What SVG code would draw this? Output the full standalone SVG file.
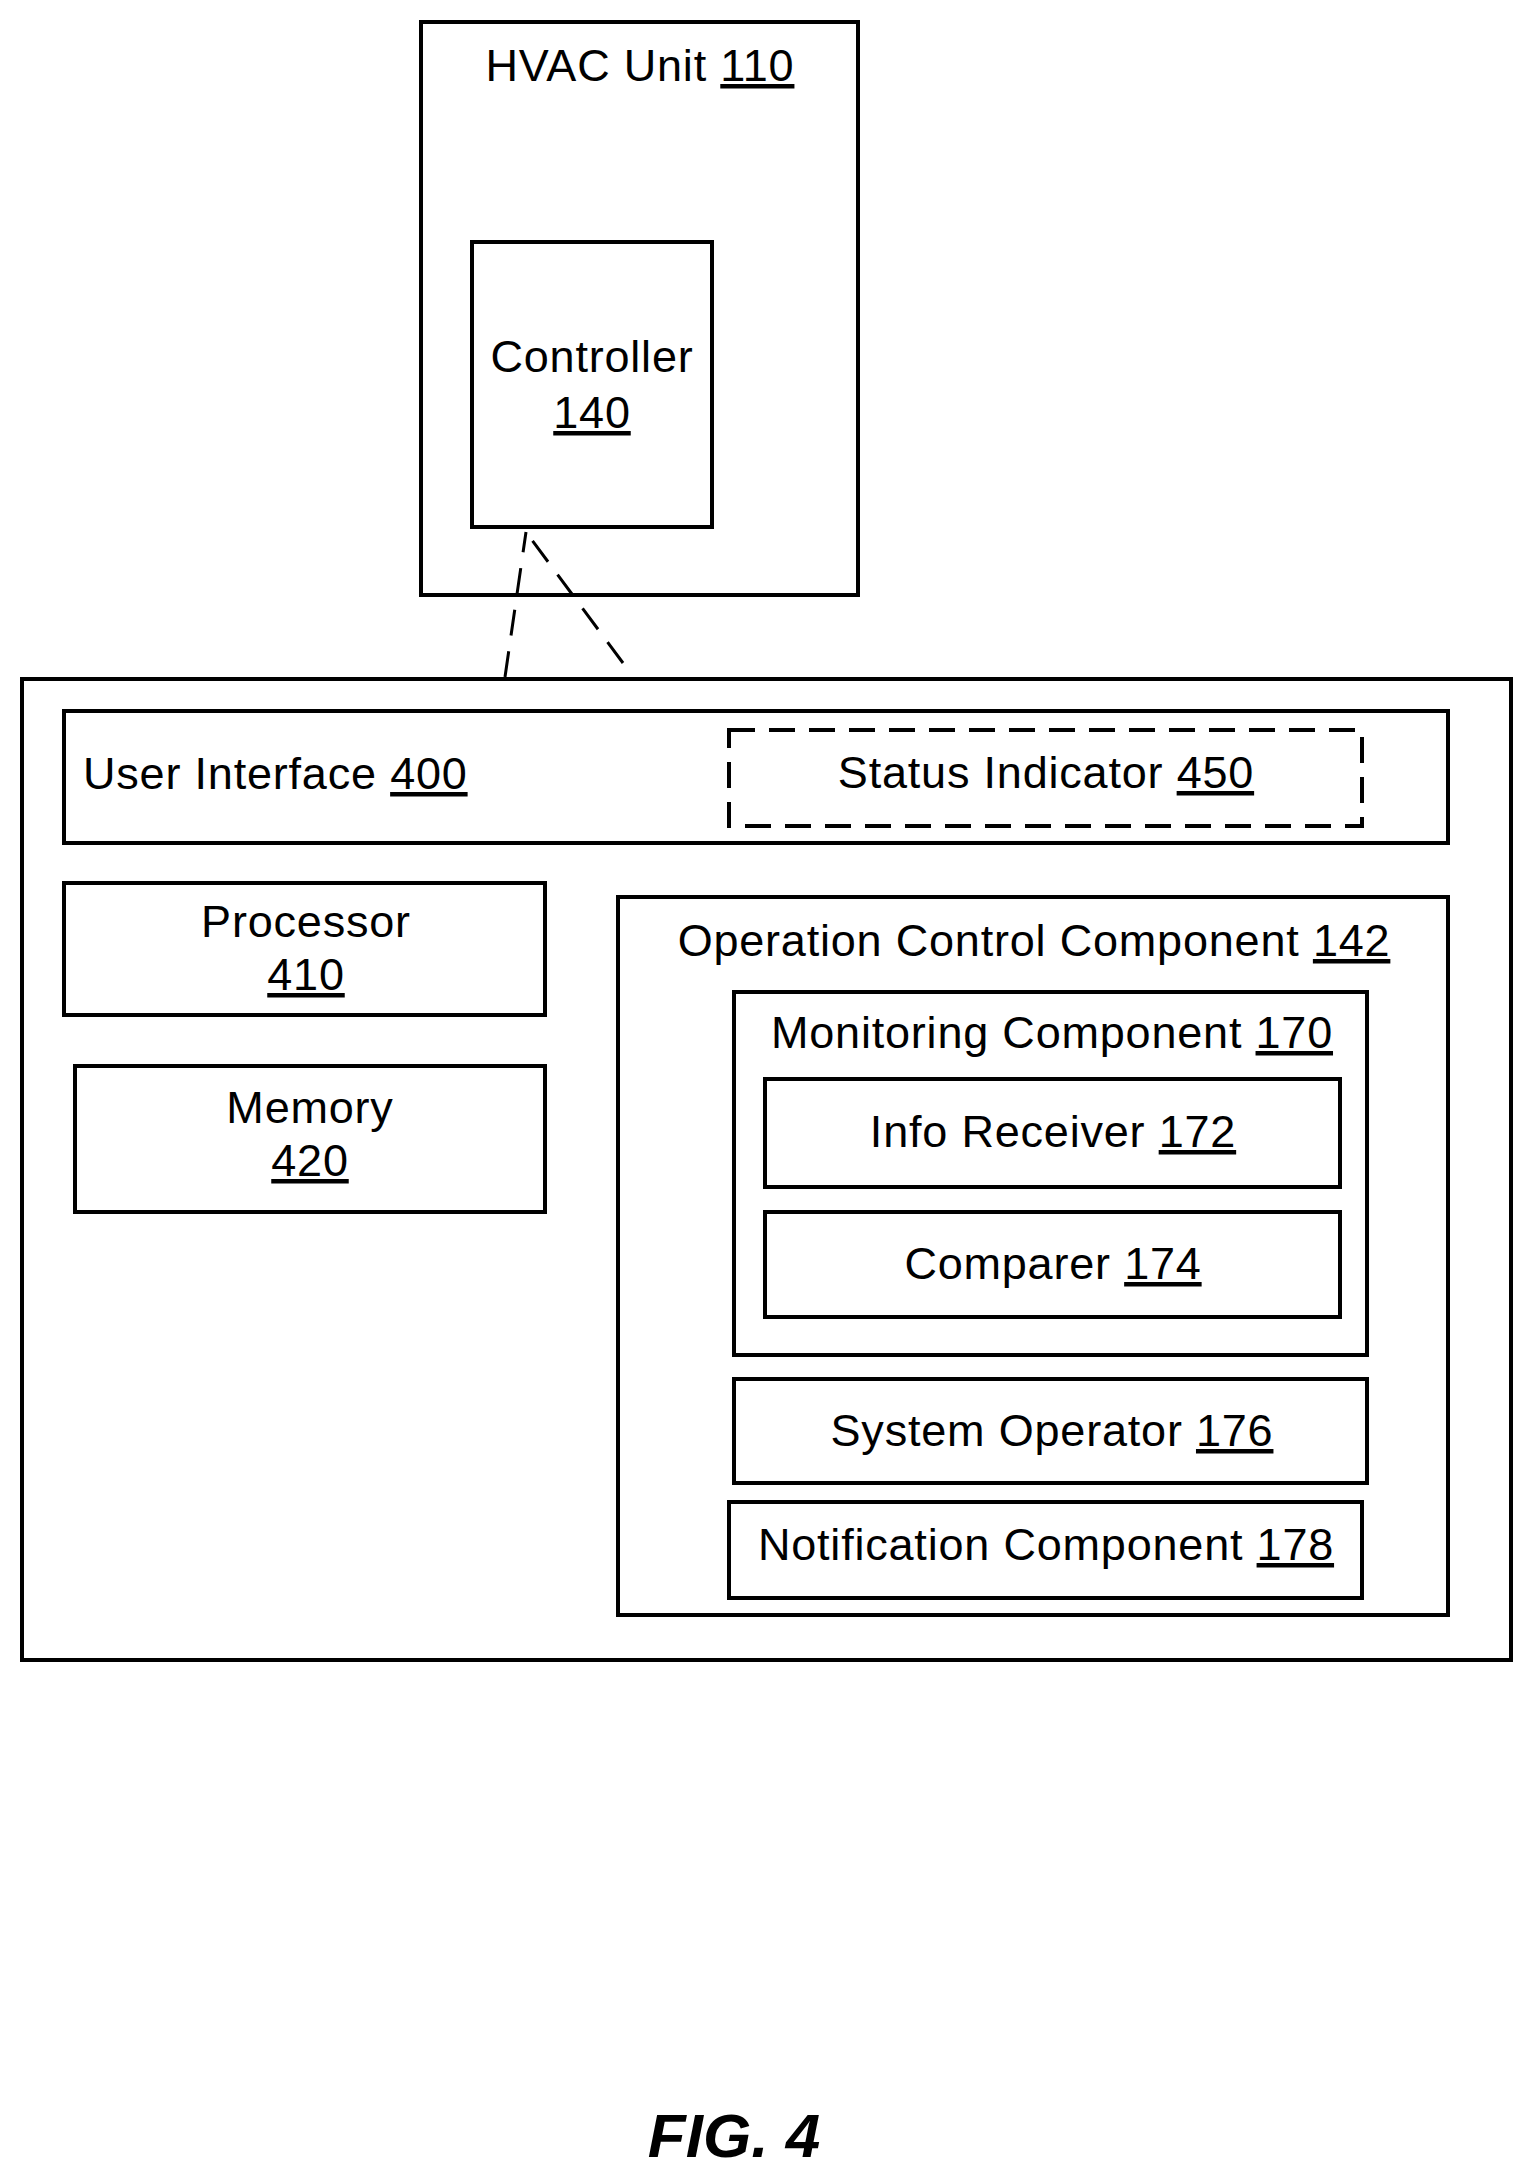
<svg xmlns="http://www.w3.org/2000/svg" width="1530" height="2175" viewBox="0 0 1530 2175">
<style>
rect{fill:none;stroke:#000;stroke-width:4}
.d{stroke-dasharray:26,14}
text{font-family:"Liberation Sans",Arial,sans-serif;font-size:45px;letter-spacing:0.8px;fill:#000}
.m{text-anchor:middle}
.u{text-decoration:underline}
line{stroke:#000;stroke-width:3;stroke-dasharray:26,16}
</style>
<rect width="1530" height="2175" fill="#fff" style="fill:#fff;stroke:none"/>
<g id="hvac"><rect x="421" y="22" width="437" height="573"/><text class="m" x="640" y="81">HVAC Unit <tspan class="u">110</tspan></text></g>
<g id="controller"><rect x="472" y="242" width="240" height="285"/><text class="m" x="592" y="372">Controller</text><text class="m u" x="592" y="428">140</text></g>
<g id="connectors"><line x1="505" y1="677" x2="526" y2="532"/><line x1="623" y1="663" x2="526" y2="532"/></g>
<g id="system"><rect x="22" y="679" width="1489" height="981"/></g>
<g id="ui"><rect x="64" y="711" width="1384" height="132"/><text x="83" y="789">User Interface <tspan class="u">400</tspan></text></g>
<g id="status"><rect class="d" x="729" y="730" width="633" height="96"/><text class="m" x="1046" y="788">Status Indicator <tspan class="u">450</tspan></text></g>
<g id="processor"><rect x="64" y="883" width="481" height="132"/><text class="m" x="306" y="937">Processor</text><text class="m u" x="306" y="990">410</text></g>
<g id="memory"><rect x="75" y="1066" width="470" height="146"/><text class="m" x="310" y="1123">Memory</text><text class="m u" x="310" y="1176">420</text></g>
<g id="occ"><rect x="618" y="897" width="830" height="718"/><text class="m" x="1034" y="956">Operation Control Component <tspan class="u">142</tspan></text></g>
<g id="monitoring"><rect x="734" y="992" width="633" height="363"/><text class="m" x="1052" y="1048">Monitoring Component <tspan class="u">170</tspan></text></g>
<g id="info"><rect x="765" y="1079" width="575" height="108"/><text class="m" x="1053" y="1147">Info Receiver <tspan class="u">172</tspan></text></g>
<g id="comparer"><rect x="765" y="1212" width="575" height="105"/><text class="m" x="1053" y="1279">Comparer <tspan class="u">174</tspan></text></g>
<g id="sysop"><rect x="734" y="1379" width="633" height="104"/><text class="m" x="1052" y="1446">System Operator <tspan class="u">176</tspan></text></g>
<g id="notif"><rect x="729" y="1502" width="633" height="96"/><text class="m" x="1046" y="1560">Notification Component <tspan class="u">178</tspan></text></g>
<text class="m" x="734" y="2157" style="font-size:62px;font-weight:bold;font-style:italic;letter-spacing:0">FIG. 4</text>
</svg>
